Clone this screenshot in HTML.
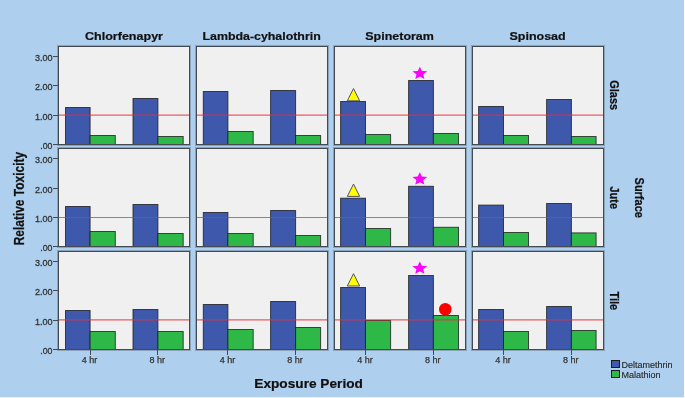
<!DOCTYPE html>
<html><head><meta charset="utf-8"><style>
html,body{margin:0;padding:0;background:#fff;}
svg{display:block;will-change:transform;}
text{font-family:"Liberation Sans",sans-serif;}
.tick{font-size:9.6px;fill:#333;stroke:#333;stroke-width:0.3px;}
.head{font-size:11px;font-weight:bold;fill:#111;stroke:#111;stroke-width:0.2px;}
.title{font-size:13px;font-weight:bold;fill:#111;stroke:#111;stroke-width:0.2px;}
.xt{font-size:9px;fill:#333;stroke:#333;stroke-width:0.25px;}
.leg{font-size:9px;fill:#2a2a2a;stroke:#2a2a2a;stroke-width:0.15px;}
</style></head><body>
<svg width="685" height="398" viewBox="0 0 685 398">
<rect x="0" y="0" width="685" height="398" fill="#FFFFFF"/>
<rect x="0" y="0" width="684" height="397" fill="#AED0EE"/>
<rect x="0" y="397" width="684" height="1" fill="#E6EFFA"/>
<rect x="57.5" y="45.5" width="133" height="100" fill="none" stroke="#444A52" stroke-opacity="0.33" stroke-width="1" shape-rendering="crispEdges"/>
<rect x="58.5" y="46.5" width="131" height="98" fill="#F0F0F0" stroke="#444A52" stroke-width="1" shape-rendering="crispEdges"/>
<rect x="65.5" y="107.5" width="24.6" height="37" fill="#3E58AC" stroke="#1A1A1A" stroke-opacity="0.78" stroke-width="1"/>
<rect x="90.1" y="135.5" width="25.2" height="9" fill="#2EB848" stroke="#1A1A1A" stroke-opacity="0.78" stroke-width="1"/>
<rect x="133" y="98.5" width="24.9" height="46" fill="#3E58AC" stroke="#1A1A1A" stroke-opacity="0.78" stroke-width="1"/>
<rect x="157.9" y="136.5" width="25.3" height="8" fill="#2EB848" stroke="#1A1A1A" stroke-opacity="0.78" stroke-width="1"/>
<line x1="58" y1="144.5" x2="190" y2="144.5" stroke="#444A52" stroke-width="1" shape-rendering="crispEdges"/>
<line x1="59" y1="115" x2="189" y2="115" stroke="#E92D3A" stroke-opacity="0.77" stroke-width="1.25"/>
<rect x="195.5" y="45.5" width="133" height="100" fill="none" stroke="#444A52" stroke-opacity="0.33" stroke-width="1" shape-rendering="crispEdges"/>
<rect x="196.5" y="46.5" width="131" height="98" fill="#F0F0F0" stroke="#444A52" stroke-width="1" shape-rendering="crispEdges"/>
<rect x="203.3" y="91.5" width="24.6" height="53" fill="#3E58AC" stroke="#1A1A1A" stroke-opacity="0.78" stroke-width="1"/>
<rect x="227.9" y="131.5" width="25.3" height="13" fill="#2EB848" stroke="#1A1A1A" stroke-opacity="0.78" stroke-width="1"/>
<rect x="270.6" y="90.5" width="25" height="54" fill="#3E58AC" stroke="#1A1A1A" stroke-opacity="0.78" stroke-width="1"/>
<rect x="295.6" y="135.5" width="25" height="9" fill="#2EB848" stroke="#1A1A1A" stroke-opacity="0.78" stroke-width="1"/>
<line x1="196" y1="144.5" x2="328" y2="144.5" stroke="#444A52" stroke-width="1" shape-rendering="crispEdges"/>
<line x1="197" y1="115" x2="327" y2="115" stroke="#E92D3A" stroke-opacity="0.77" stroke-width="1.25"/>
<rect x="333.5" y="45.5" width="133" height="100" fill="none" stroke="#444A52" stroke-opacity="0.33" stroke-width="1" shape-rendering="crispEdges"/>
<rect x="334.5" y="46.5" width="131" height="98" fill="#F0F0F0" stroke="#444A52" stroke-width="1" shape-rendering="crispEdges"/>
<rect x="340.6" y="101.5" width="24.9" height="43" fill="#3E58AC" stroke="#1A1A1A" stroke-opacity="0.78" stroke-width="1"/>
<rect x="365.5" y="134.5" width="25.1" height="10" fill="#2EB848" stroke="#1A1A1A" stroke-opacity="0.78" stroke-width="1"/>
<rect x="408.6" y="80.5" width="24.8" height="64" fill="#3E58AC" stroke="#1A1A1A" stroke-opacity="0.78" stroke-width="1"/>
<rect x="433.4" y="133.5" width="25.1" height="11" fill="#2EB848" stroke="#1A1A1A" stroke-opacity="0.78" stroke-width="1"/>
<line x1="334" y1="144.5" x2="466" y2="144.5" stroke="#444A52" stroke-width="1" shape-rendering="crispEdges"/>
<line x1="335" y1="115" x2="465" y2="115" stroke="#E92D3A" stroke-opacity="0.77" stroke-width="1.25"/>
<rect x="471.5" y="45.5" width="133" height="100" fill="none" stroke="#444A52" stroke-opacity="0.33" stroke-width="1" shape-rendering="crispEdges"/>
<rect x="472.5" y="46.5" width="131" height="98" fill="#F0F0F0" stroke="#444A52" stroke-width="1" shape-rendering="crispEdges"/>
<rect x="478.6" y="106.5" width="24.9" height="38" fill="#3E58AC" stroke="#1A1A1A" stroke-opacity="0.78" stroke-width="1"/>
<rect x="503.5" y="135.5" width="25" height="9" fill="#2EB848" stroke="#1A1A1A" stroke-opacity="0.78" stroke-width="1"/>
<rect x="546.6" y="99.5" width="24.8" height="45" fill="#3E58AC" stroke="#1A1A1A" stroke-opacity="0.78" stroke-width="1"/>
<rect x="571.4" y="136.5" width="24.7" height="8" fill="#2EB848" stroke="#1A1A1A" stroke-opacity="0.78" stroke-width="1"/>
<line x1="472" y1="144.5" x2="604" y2="144.5" stroke="#444A52" stroke-width="1" shape-rendering="crispEdges"/>
<line x1="473" y1="115" x2="603" y2="115" stroke="#E92D3A" stroke-opacity="0.77" stroke-width="1.25"/>
<line x1="53" y1="144.5" x2="58" y2="144.5" stroke="#444A52" stroke-width="1" shape-rendering="crispEdges"/>
<text x="52.5" y="148.9" text-anchor="end" class="tick" textLength="12.2" lengthAdjust="spacingAndGlyphs">.00</text>
<line x1="53" y1="115.5" x2="58" y2="115.5" stroke="#444A52" stroke-width="1" shape-rendering="crispEdges"/>
<text x="52.5" y="119.9" text-anchor="end" class="tick" textLength="17.6" lengthAdjust="spacingAndGlyphs">1.00</text>
<line x1="53" y1="85.5" x2="58" y2="85.5" stroke="#444A52" stroke-width="1" shape-rendering="crispEdges"/>
<text x="52.5" y="89.9" text-anchor="end" class="tick" textLength="17.6" lengthAdjust="spacingAndGlyphs">2.00</text>
<line x1="53" y1="56.5" x2="58" y2="56.5" stroke="#444A52" stroke-width="1" shape-rendering="crispEdges"/>
<text x="52.5" y="60.9" text-anchor="end" class="tick" textLength="17.6" lengthAdjust="spacingAndGlyphs">3.00</text>
<rect x="57.5" y="147.5" width="133" height="100" fill="none" stroke="#444A52" stroke-opacity="0.33" stroke-width="1" shape-rendering="crispEdges"/>
<rect x="58.5" y="148.5" width="131" height="98" fill="#F0F0F0" stroke="#444A52" stroke-width="1" shape-rendering="crispEdges"/>
<rect x="65.5" y="206.5" width="24.6" height="40" fill="#3E58AC" stroke="#1A1A1A" stroke-opacity="0.78" stroke-width="1"/>
<rect x="90.1" y="231.5" width="25.2" height="15" fill="#2EB848" stroke="#1A1A1A" stroke-opacity="0.78" stroke-width="1"/>
<rect x="133" y="204.5" width="24.9" height="42" fill="#3E58AC" stroke="#1A1A1A" stroke-opacity="0.78" stroke-width="1"/>
<rect x="157.9" y="233.5" width="25.3" height="13" fill="#2EB848" stroke="#1A1A1A" stroke-opacity="0.78" stroke-width="1"/>
<line x1="58" y1="246.5" x2="190" y2="246.5" stroke="#444A52" stroke-width="1" shape-rendering="crispEdges"/>
<line x1="59" y1="217.5" x2="189" y2="217.5" stroke="#E92D3A" stroke-opacity="0.77" stroke-width="1.0"/>
<rect x="195.5" y="147.5" width="133" height="100" fill="none" stroke="#444A52" stroke-opacity="0.33" stroke-width="1" shape-rendering="crispEdges"/>
<rect x="196.5" y="148.5" width="131" height="98" fill="#F0F0F0" stroke="#444A52" stroke-width="1" shape-rendering="crispEdges"/>
<rect x="203.3" y="212.5" width="24.6" height="34" fill="#3E58AC" stroke="#1A1A1A" stroke-opacity="0.78" stroke-width="1"/>
<rect x="227.9" y="233.5" width="25.3" height="13" fill="#2EB848" stroke="#1A1A1A" stroke-opacity="0.78" stroke-width="1"/>
<rect x="270.6" y="210.5" width="25" height="36" fill="#3E58AC" stroke="#1A1A1A" stroke-opacity="0.78" stroke-width="1"/>
<rect x="295.6" y="235.5" width="25" height="11" fill="#2EB848" stroke="#1A1A1A" stroke-opacity="0.78" stroke-width="1"/>
<line x1="196" y1="246.5" x2="328" y2="246.5" stroke="#444A52" stroke-width="1" shape-rendering="crispEdges"/>
<line x1="197" y1="217.5" x2="327" y2="217.5" stroke="#E92D3A" stroke-opacity="0.77" stroke-width="1.0"/>
<rect x="333.5" y="147.5" width="133" height="100" fill="none" stroke="#444A52" stroke-opacity="0.33" stroke-width="1" shape-rendering="crispEdges"/>
<rect x="334.5" y="148.5" width="131" height="98" fill="#F0F0F0" stroke="#444A52" stroke-width="1" shape-rendering="crispEdges"/>
<rect x="340.6" y="198.2" width="24.9" height="48.3" fill="#3E58AC" stroke="#1A1A1A" stroke-opacity="0.78" stroke-width="1"/>
<rect x="365.5" y="228.5" width="25.1" height="18" fill="#2EB848" stroke="#1A1A1A" stroke-opacity="0.78" stroke-width="1"/>
<rect x="408.6" y="186.3" width="24.8" height="60.2" fill="#3E58AC" stroke="#1A1A1A" stroke-opacity="0.78" stroke-width="1"/>
<rect x="433.4" y="227.3" width="25.1" height="19.2" fill="#2EB848" stroke="#1A1A1A" stroke-opacity="0.78" stroke-width="1"/>
<line x1="334" y1="246.5" x2="466" y2="246.5" stroke="#444A52" stroke-width="1" shape-rendering="crispEdges"/>
<line x1="335" y1="217.5" x2="465" y2="217.5" stroke="#E92D3A" stroke-opacity="0.77" stroke-width="1.0"/>
<rect x="471.5" y="147.5" width="133" height="100" fill="none" stroke="#444A52" stroke-opacity="0.33" stroke-width="1" shape-rendering="crispEdges"/>
<rect x="472.5" y="148.5" width="131" height="98" fill="#F0F0F0" stroke="#444A52" stroke-width="1" shape-rendering="crispEdges"/>
<rect x="478.6" y="205.1" width="24.9" height="41.4" fill="#3E58AC" stroke="#1A1A1A" stroke-opacity="0.78" stroke-width="1"/>
<rect x="503.5" y="232.5" width="25" height="14" fill="#2EB848" stroke="#1A1A1A" stroke-opacity="0.78" stroke-width="1"/>
<rect x="546.6" y="203.5" width="24.8" height="43" fill="#3E58AC" stroke="#1A1A1A" stroke-opacity="0.78" stroke-width="1"/>
<rect x="571.4" y="232.9" width="24.7" height="13.6" fill="#2EB848" stroke="#1A1A1A" stroke-opacity="0.78" stroke-width="1"/>
<line x1="472" y1="246.5" x2="604" y2="246.5" stroke="#444A52" stroke-width="1" shape-rendering="crispEdges"/>
<line x1="473" y1="217.5" x2="603" y2="217.5" stroke="#E92D3A" stroke-opacity="0.77" stroke-width="1.0"/>
<line x1="53" y1="246.5" x2="58" y2="246.5" stroke="#444A52" stroke-width="1" shape-rendering="crispEdges"/>
<text x="52.5" y="250.9" text-anchor="end" class="tick" textLength="12.2" lengthAdjust="spacingAndGlyphs">.00</text>
<line x1="53" y1="217.5" x2="58" y2="217.5" stroke="#444A52" stroke-width="1" shape-rendering="crispEdges"/>
<text x="52.5" y="221.9" text-anchor="end" class="tick" textLength="17.6" lengthAdjust="spacingAndGlyphs">1.00</text>
<line x1="53" y1="188.5" x2="58" y2="188.5" stroke="#444A52" stroke-width="1" shape-rendering="crispEdges"/>
<text x="52.5" y="192.9" text-anchor="end" class="tick" textLength="17.6" lengthAdjust="spacingAndGlyphs">2.00</text>
<line x1="53" y1="158.5" x2="58" y2="158.5" stroke="#444A52" stroke-width="1" shape-rendering="crispEdges"/>
<text x="52.5" y="162.9" text-anchor="end" class="tick" textLength="17.6" lengthAdjust="spacingAndGlyphs">3.00</text>
<rect x="57.5" y="250.5" width="133" height="100" fill="none" stroke="#444A52" stroke-opacity="0.33" stroke-width="1" shape-rendering="crispEdges"/>
<rect x="58.5" y="251.5" width="131" height="98" fill="#F0F0F0" stroke="#444A52" stroke-width="1" shape-rendering="crispEdges"/>
<rect x="65.5" y="310.5" width="24.6" height="39" fill="#3E58AC" stroke="#1A1A1A" stroke-opacity="0.78" stroke-width="1"/>
<rect x="90.1" y="331.5" width="25.2" height="18" fill="#2EB848" stroke="#1A1A1A" stroke-opacity="0.78" stroke-width="1"/>
<rect x="133" y="309.5" width="24.9" height="40" fill="#3E58AC" stroke="#1A1A1A" stroke-opacity="0.78" stroke-width="1"/>
<rect x="157.9" y="331.5" width="25.3" height="18" fill="#2EB848" stroke="#1A1A1A" stroke-opacity="0.78" stroke-width="1"/>
<line x1="58" y1="349.5" x2="190" y2="349.5" stroke="#444A52" stroke-width="1" shape-rendering="crispEdges"/>
<line x1="59" y1="319.9" x2="189" y2="319.9" stroke="#E92D3A" stroke-opacity="0.77" stroke-width="1.25"/>
<rect x="195.5" y="250.5" width="133" height="100" fill="none" stroke="#444A52" stroke-opacity="0.33" stroke-width="1" shape-rendering="crispEdges"/>
<rect x="196.5" y="251.5" width="131" height="98" fill="#F0F0F0" stroke="#444A52" stroke-width="1" shape-rendering="crispEdges"/>
<rect x="203.3" y="304.5" width="24.6" height="45" fill="#3E58AC" stroke="#1A1A1A" stroke-opacity="0.78" stroke-width="1"/>
<rect x="227.9" y="329.5" width="25.3" height="20" fill="#2EB848" stroke="#1A1A1A" stroke-opacity="0.78" stroke-width="1"/>
<rect x="270.6" y="301.5" width="25" height="48" fill="#3E58AC" stroke="#1A1A1A" stroke-opacity="0.78" stroke-width="1"/>
<rect x="295.6" y="327.5" width="25" height="22" fill="#2EB848" stroke="#1A1A1A" stroke-opacity="0.78" stroke-width="1"/>
<line x1="196" y1="349.5" x2="328" y2="349.5" stroke="#444A52" stroke-width="1" shape-rendering="crispEdges"/>
<line x1="197" y1="319.9" x2="327" y2="319.9" stroke="#E92D3A" stroke-opacity="0.77" stroke-width="1.25"/>
<rect x="333.5" y="250.5" width="133" height="100" fill="none" stroke="#444A52" stroke-opacity="0.33" stroke-width="1" shape-rendering="crispEdges"/>
<rect x="334.5" y="251.5" width="131" height="98" fill="#F0F0F0" stroke="#444A52" stroke-width="1" shape-rendering="crispEdges"/>
<rect x="340.6" y="287.5" width="24.9" height="62" fill="#3E58AC" stroke="#1A1A1A" stroke-opacity="0.78" stroke-width="1"/>
<rect x="365.5" y="320.5" width="25.1" height="29" fill="#2EB848" stroke="#1A1A1A" stroke-opacity="0.78" stroke-width="1"/>
<rect x="408.6" y="275.5" width="24.8" height="74" fill="#3E58AC" stroke="#1A1A1A" stroke-opacity="0.78" stroke-width="1"/>
<rect x="433.4" y="315.5" width="25.1" height="34" fill="#2EB848" stroke="#1A1A1A" stroke-opacity="0.78" stroke-width="1"/>
<line x1="334" y1="349.5" x2="466" y2="349.5" stroke="#444A52" stroke-width="1" shape-rendering="crispEdges"/>
<line x1="335" y1="319.9" x2="465" y2="319.9" stroke="#E92D3A" stroke-opacity="0.77" stroke-width="1.25"/>
<rect x="471.5" y="250.5" width="133" height="100" fill="none" stroke="#444A52" stroke-opacity="0.33" stroke-width="1" shape-rendering="crispEdges"/>
<rect x="472.5" y="251.5" width="131" height="98" fill="#F0F0F0" stroke="#444A52" stroke-width="1" shape-rendering="crispEdges"/>
<rect x="478.6" y="309.5" width="24.9" height="40" fill="#3E58AC" stroke="#1A1A1A" stroke-opacity="0.78" stroke-width="1"/>
<rect x="503.5" y="331.5" width="25" height="18" fill="#2EB848" stroke="#1A1A1A" stroke-opacity="0.78" stroke-width="1"/>
<rect x="546.6" y="306.5" width="24.8" height="43" fill="#3E58AC" stroke="#1A1A1A" stroke-opacity="0.78" stroke-width="1"/>
<rect x="571.4" y="330.5" width="24.7" height="19" fill="#2EB848" stroke="#1A1A1A" stroke-opacity="0.78" stroke-width="1"/>
<line x1="472" y1="349.5" x2="604" y2="349.5" stroke="#444A52" stroke-width="1" shape-rendering="crispEdges"/>
<line x1="473" y1="319.9" x2="603" y2="319.9" stroke="#E92D3A" stroke-opacity="0.77" stroke-width="1.25"/>
<line x1="53" y1="349.5" x2="58" y2="349.5" stroke="#444A52" stroke-width="1" shape-rendering="crispEdges"/>
<text x="52.5" y="353.9" text-anchor="end" class="tick" textLength="12.2" lengthAdjust="spacingAndGlyphs">.00</text>
<line x1="53" y1="320.5" x2="58" y2="320.5" stroke="#444A52" stroke-width="1" shape-rendering="crispEdges"/>
<text x="52.5" y="324.9" text-anchor="end" class="tick" textLength="17.6" lengthAdjust="spacingAndGlyphs">1.00</text>
<line x1="53" y1="290.5" x2="58" y2="290.5" stroke="#444A52" stroke-width="1" shape-rendering="crispEdges"/>
<text x="52.5" y="294.9" text-anchor="end" class="tick" textLength="17.6" lengthAdjust="spacingAndGlyphs">2.00</text>
<line x1="53" y1="261.5" x2="58" y2="261.5" stroke="#444A52" stroke-width="1" shape-rendering="crispEdges"/>
<text x="52.5" y="265.9" text-anchor="end" class="tick" textLength="17.6" lengthAdjust="spacingAndGlyphs">3.00</text>
<line x1="90.5" y1="350" x2="90.5" y2="355" stroke="#444A52" stroke-width="1" shape-rendering="crispEdges"/>
<line x1="157.5" y1="350" x2="157.5" y2="355" stroke="#444A52" stroke-width="1" shape-rendering="crispEdges"/>
<text x="89.6" y="363" text-anchor="middle" class="xt">4 hr</text>
<text x="157.2" y="363" text-anchor="middle" class="xt">8 hr</text>
<line x1="227.5" y1="350" x2="227.5" y2="355" stroke="#444A52" stroke-width="1" shape-rendering="crispEdges"/>
<line x1="295.5" y1="350" x2="295.5" y2="355" stroke="#444A52" stroke-width="1" shape-rendering="crispEdges"/>
<text x="227.4" y="363" text-anchor="middle" class="xt">4 hr</text>
<text x="294.9" y="363" text-anchor="middle" class="xt">8 hr</text>
<line x1="365.5" y1="350" x2="365.5" y2="355" stroke="#444A52" stroke-width="1" shape-rendering="crispEdges"/>
<line x1="433.5" y1="350" x2="433.5" y2="355" stroke="#444A52" stroke-width="1" shape-rendering="crispEdges"/>
<text x="365" y="363" text-anchor="middle" class="xt">4 hr</text>
<text x="432.7" y="363" text-anchor="middle" class="xt">8 hr</text>
<line x1="503.5" y1="350" x2="503.5" y2="355" stroke="#444A52" stroke-width="1" shape-rendering="crispEdges"/>
<line x1="571.5" y1="350" x2="571.5" y2="355" stroke="#444A52" stroke-width="1" shape-rendering="crispEdges"/>
<text x="503" y="363" text-anchor="middle" class="xt">4 hr</text>
<text x="570.7" y="363" text-anchor="middle" class="xt">8 hr</text>
<polygon points="353.5,88.5 359.7,100.8 347.3,100.8" fill="#FFFF00" stroke="#555555" stroke-width="1"/>
<polygon points="353.5,184.1 359.7,196.4 347.3,196.4" fill="#FFFF00" stroke="#555555" stroke-width="1"/>
<polygon points="353.5,273.7 359.7,286 347.3,286" fill="#FFFF00" stroke="#555555" stroke-width="1"/>
<polygon points="419.85,66.65 421.91,70.97 427.27,71.35 423.19,74.4 424.43,78.95 419.85,76.51 415.27,78.95 416.51,74.4 412.43,71.35 417.79,70.97" fill="#FF00FF"/>
<polygon points="419.8,172.3 421.86,176.62 427.22,177 423.14,180.05 424.38,184.6 419.8,182.16 415.22,184.6 416.46,180.05 412.38,177 417.74,176.62" fill="#FF00FF"/>
<polygon points="419.8,261.5 421.86,265.82 427.22,266.2 423.14,269.25 424.38,273.8 419.8,271.36 415.22,273.8 416.46,269.25 412.38,266.2 417.74,265.82" fill="#FF00FF"/>
<circle cx="445.3" cy="309.3" r="6.3" fill="#FF0000"/>
<text x="124.0" y="40" text-anchor="middle" class="head" textLength="78" lengthAdjust="spacingAndGlyphs">Chlorfenapyr</text>
<text x="261.6" y="40" text-anchor="middle" class="head" textLength="118.3" lengthAdjust="spacingAndGlyphs">Lambda-cyhalothrin</text>
<text x="399.6" y="40" text-anchor="middle" class="head" textLength="68.6" lengthAdjust="spacingAndGlyphs">Spinetoram</text>
<text x="537.6" y="40" text-anchor="middle" class="head" textLength="56.2" lengthAdjust="spacingAndGlyphs">Spinosad</text>
<text transform="translate(610.1,95.2) scale(1.22,1) rotate(90)" x="0" y="0" text-anchor="middle" class="head">Glass</text>
<text transform="translate(610.1,197.8) scale(1.22,1) rotate(90)" x="0" y="0" text-anchor="middle" class="head">Jute</text>
<text transform="translate(610.1,300.8) scale(1.22,1) rotate(90)" x="0" y="0" text-anchor="middle" class="head">Tile</text>
<text transform="translate(635.4,197.7) scale(1.2,1) rotate(90)" x="0" y="0" text-anchor="middle" class="head">Surface</text>
<text transform="translate(23.6,198.6) scale(1.15,1) rotate(-90)" x="0" y="0" text-anchor="middle" class="title" style="font-size:12px" textLength="93.5" lengthAdjust="spacingAndGlyphs">Relative Toxicity</text>
<text x="308.6" y="388.1" text-anchor="middle" class="title" style="font-size:12px" textLength="108.6" lengthAdjust="spacingAndGlyphs">Exposure Period</text>
<rect x="611.5" y="360.5" width="8" height="7" fill="#3E58AC" stroke="#1A1A1A" stroke-width="1" shape-rendering="crispEdges"/>
<rect x="611.5" y="370.5" width="8" height="7" fill="#2EB848" stroke="#1A1A1A" stroke-width="1" shape-rendering="crispEdges"/>
<text x="621.5" y="367.8" class="leg">Deltamethrin</text>
<text x="621.5" y="377.8" class="leg">Malathion</text>
</svg>
</body></html>
